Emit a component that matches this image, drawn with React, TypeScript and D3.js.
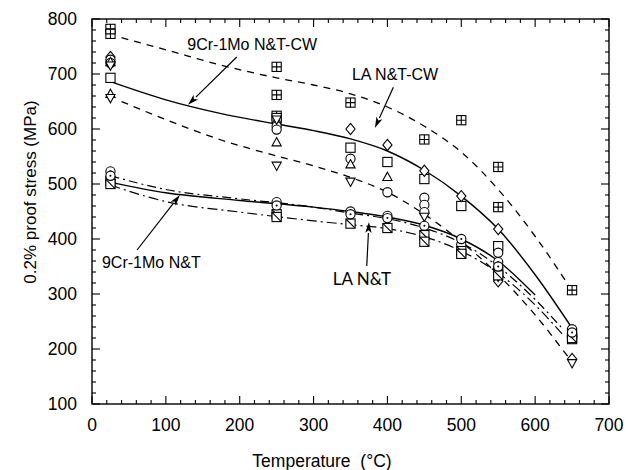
import React from "react";
import * as d3 from "d3";

type P = [number, number];

// ---- data: marker points [temperature °C, 0.2% proof stress MPa] ----
const sqPlusPts: P[] = [[25,782],[25,773],[250,713],[250,662],[250,624],[350,648],[450,581],[500,616],[550,531],[550,458],[650,307]];
const diamondPts: P[] = [[25,731],[250,611],[350,600],[400,571],[450,524],[500,478],[550,418],[550,323],[650,182]];
const circlePts: P[] = [[25,726],[25,720],[250,605],[250,599],[350,546],[400,485],[450,475],[450,462],[450,449],[500,390],[550,375]];
const triUpPts: P[] = [[25,664],[25,722],[250,576],[350,536],[400,513],[650,230]];
const triDownPts: P[] = [[25,656],[25,715],[250,617],[250,533],[350,504],[450,440],[550,331],[650,174]];
const squarePts: P[] = [[25,693],[250,620],[350,566],[400,540],[450,509],[500,460],[550,387],[650,218]];
const circDotPts: P[] = [[25,523],[25,515],[250,467],[250,461],[350,450],[350,445],[400,442],[400,438],[450,424],[500,400],[550,358],[550,350],[650,236],[650,230]];
const sqDiagPts: P[] = [[25,505],[25,500],[250,445],[250,440],[350,428],[400,420],[450,407],[450,395],[500,378],[500,373],[550,340],[550,334],[650,228],[650,220]];

// ---- data: curves ----
const cwUpper: P[] = [[40,766],[100,744],[175,716],[250,693],[300,680],[350,664],[400,640],[450,605],[500,558],[550,490],[600,405],[648,310]];
const cwMid: P[] = [[25,686],[100,653],[175,628],[250,609],[300,597],[350,582],[400,560],[450,525],[500,478],[550,418],[600,335],[650,238]];
const cwLower: P[] = [[40,650],[100,617],[175,580],[250,551],[300,533],[350,512],[400,485],[450,445],[500,395],[550,335],[600,262],[645,185]];
const ntSolid: P[] = [[25,503],[100,484],[200,470],[300,458],[350,450],[400,440],[450,425],[500,400],[550,360],[600,298]];
const ntDashDot1: P[] = [[25,515],[100,490],[200,473],[300,458],[350,447],[400,437],[450,420],[500,393],[550,350],[600,290],[635,240]];
const ntDashDot2: P[] = [[25,498],[100,468],[200,449],[300,433],[350,426],[400,419],[450,404],[500,378],[550,338],[600,280],[640,222]];

// ---- axis ticks ----
const xMajor = [0,100,200,300,400,500,600,700];
const yMajor = [100,200,300,400,500,600,700,800];

// ---- annotations (data coords) ----
const annLabels = ["9Cr-1Mo N&T-CW", "LA N&T-CW", "9Cr-1Mo N&T", "LA N&T"];
const annTextPos: P[] = [[129,744],[352,689],[13.5,347],[326,316]];
const annArrowFrom: P[] = [[196,731],[408,676],[61,380],[372,351]];
const annArrowTo: P[] = [[130,644],[383,602],[119,480],[375,431]];

const W = 628, H = 470;
const x = d3.scaleLinear().domain([0, 700]).range([92, 609]);
const y = d3.scaleLinear().domain([100, 800]).range([404, 19]);

const line = d3.line<P>().x(d => x(d[0])).y(d => y(d[1])).curve(d3.curveMonotoneX);

const S = 4.6;
function Marker({ type, p }: { type: string; p: P }) {
  const cx = x(p[0]), cy = y(p[1]);
  const common = { fill: "white", stroke: "black", strokeWidth: 1.1 };
  switch (type) {
    case "sqPlus":
      return <g {...common}><rect x={cx - S} y={cy - S} width={2 * S} height={2 * S} /><path d={`M${cx - S},${cy}H${cx + S}M${cx},${cy - S}V${cy + S}`} /></g>;
    case "diamond":
      return <path {...common} d={`M${cx},${cy - S - 1}L${cx + S},${cy}L${cx},${cy + S + 1}L${cx - S},${cy}Z`} />;
    case "circle":
      return <circle {...common} cx={cx} cy={cy} r={S} />;
    case "triUp":
      return <path {...common} d={`M${cx},${cy - S}L${cx + S},${cy + S * 0.8}L${cx - S},${cy + S * 0.8}Z`} />;
    case "triDown":
      return <path {...common} d={`M${cx},${cy + S}L${cx + S},${cy - S * 0.8}L${cx - S},${cy - S * 0.8}Z`} />;
    case "square":
      return <rect {...common} x={cx - S} y={cy - S} width={2 * S} height={2 * S} />;
    case "circDot":
      return <g><circle {...common} cx={cx} cy={cy} r={S} /><circle cx={cx} cy={cy} r={1} fill="black" /></g>;
    case "sqDiag":
      return <g {...common}><rect x={cx - S} y={cy - S} width={2 * S} height={2 * S} /><path d={`M${cx - S},${cy - S}L${cx + S},${cy + S}`} /></g>;
  }
  return null;
}

function Arrow({ from, to }: { from: P; to: P }) {
  const x1 = x(from[0]), y1 = y(from[1]), x2 = x(to[0]), y2 = y(to[1]);
  const a = Math.atan2(y2 - y1, x2 - x1);
  const L = 11, Wd = 3.2;
  const bx = x2 - L * Math.cos(a), by = y2 - L * Math.sin(a);
  const px = -Math.sin(a) * Wd, py = Math.cos(a) * Wd;
  return (
    <g>
      <line x1={x1} y1={y1} x2={bx} y2={by} stroke="black" strokeWidth={1.2} />
      <path d={`M${x2},${y2}L${bx + px},${by + py}L${bx + L * 0.25 * Math.cos(a)},${by + L * 0.25 * Math.sin(a)}L${bx - px},${by - py}Z`} fill="black" />
    </g>
  );
}

export default function App() {
  const xMinor = d3.range(0, 701, 20);
  const yMinor = d3.range(100, 801, 20);
  const font = "'Liberation Sans', Arial, sans-serif";
  const markers: [string, P[]][] = [
    ["sqPlus", sqPlusPts], ["square", squarePts], ["diamond", diamondPts], ["circle", circlePts],
    ["triUp", triUpPts], ["triDown", triDownPts], ["sqDiag", sqDiagPts], ["circDot", circDotPts],
  ];
  return (
    <svg width={W} height={H} style={{ position: "absolute", left: 0, top: 0, background: "white" }} fontFamily={font}>
      <rect x={0} y={0} width={W} height={H} fill="white" />
      {/* curves */}
      <path d={line(cwUpper)!} fill="none" stroke="black" strokeWidth={1.3} strokeDasharray="7,6" />
      <path d={line(cwMid)!} fill="none" stroke="black" strokeWidth={1.4} />
      <path d={line(cwLower)!} fill="none" stroke="black" strokeWidth={1.3} strokeDasharray="7,6" />
      <path d={line(ntDashDot1)!} fill="none" stroke="black" strokeWidth={1.2} strokeDasharray="9,4,2,4" />
      <path d={line(ntDashDot2)!} fill="none" stroke="black" strokeWidth={1.2} strokeDasharray="10,4,2,4" />
      <path d={line(ntSolid)!} fill="none" stroke="black" strokeWidth={1.4} />
      {/* markers */}
      {markers.map(([t, pts]) => pts.map((p, i) => <Marker key={t + i} type={t} p={p} />))}
      {/* frame */}
      <rect x={x(0)} y={y(800)} width={x(700) - x(0)} height={y(100) - y(800)} fill="none" stroke="black" strokeWidth={1.4} />
      {xMinor.map(v => {
        const L = v % 100 === 0 ? 8 : 4;
        return <g key={"xt" + v} stroke="black" strokeWidth={1.1}>
          <line x1={x(v)} x2={x(v)} y1={y(100)} y2={y(100) - L} />
          <line x1={x(v)} x2={x(v)} y1={y(800)} y2={y(800) + L} />
        </g>;
      })}
      {yMinor.map(v => {
        const L = v % 100 === 0 ? 8 : 4;
        return <g key={"yt" + v} stroke="black" strokeWidth={1.1}>
          <line x1={x(0)} x2={x(0) + L} y1={y(v)} y2={y(v)} />
          <line x1={x(700)} x2={x(700) - L} y1={y(v)} y2={y(v)} />
        </g>;
      })}
      {xMajor.map(v => (
        <text key={"xl" + v} x={x(v)} y={431} textAnchor="middle" fontSize={17.5}>{v}</text>
      ))}
      {yMajor.map(v => (
        <text key={"yl" + v} x={77} y={y(v)} dy="0.35em" textAnchor="end" fontSize={17.5}>{v}</text>
      ))}
      <text x={322} y={467} textAnchor="middle" fontSize={17.5} xmlSpace="preserve" style={{ whiteSpace: "pre" }}>{"Temperature  (°C)"}</text>
      <text transform="translate(36,192) rotate(-90)" textAnchor="middle" fontSize={17}>0.2% proof stress (MPa)</text>
      {/* annotations */}
      {annLabels.map((t, i) => (
        <g key={"ann" + i}>
          <text x={x(annTextPos[i][0])} y={y(annTextPos[i][1])} fontSize={i === 3 ? 17 : 16}
            fontFamily={i === 3 ? "Lato, 'Open Sans', sans-serif" : font}>{t}</text>
          <Arrow from={annArrowFrom[i]} to={annArrowTo[i]} />
        </g>
      ))}
    </svg>
  );
}
